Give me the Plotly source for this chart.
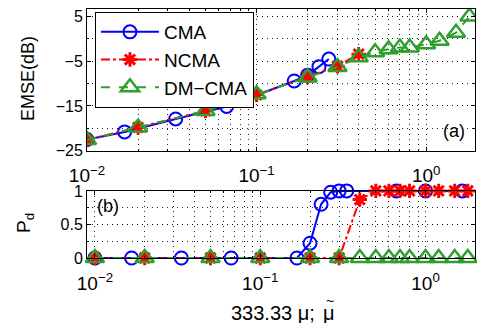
import math
import plotly.graph_objects as go

# ---- data ----
cma_x = [0.01, 0.016667, 0.033333, 0.066667, 0.166667, 0.2, 0.233333, 0.266667,
         0.3, 0.333333, 0.666667, 1.0, 1.666667]
cma_emse = [-22.5, -20.8, -17.9, -15.1, -9.4, -8.1, -6.2, -4.5,
            None, None, None, None, None]
cma_pd = [0, 0, 0, 0, 0, 0.22, 0.8, 0.98, 1, 1, 1, 1, 1]

mt_x = [0.01, 0.02, 0.05, 0.1, 0.2, 0.3, 0.4, 0.5, 0.6, 0.7, 0.8, 1.0, 1.2, 1.5, 1.8]
ncma_emse = [-22.6, -19.8, -16.1, -12.5, -8.5, -6.1, -3.4,
             None, None, None, None, None, None, None, None]
ncma_pd = [0, 0, 0, 0, 0, 0, 0.87, 1, 1, 1, 1, 1, 1, 1, 1]
dm_emse = [-22.6, -19.8, -16.1, -12.4, -8.6, -6.3, -4.1, -3.0, -2.3, -1.9, -1.9,
           -1.2, -0.4, 1.4, 5.0]
dm_pd = [0, 0, 0, 0, 0, 0, 0, 0, 0, 0, 0, 0, 0, 0, 0]

series_names = ["CMA", "NCMA", "DM\u2212CMA"]
x_tickvals = [0.01, 0.1, 1]
x_ticktext = ["10<sup>\u22122</sup>", "10<sup>\u22121</sup>", "10<sup>0</sup>"]
y1_ticks = [-25, -15, -5, 5]
y2_ticks = [0, 0.5, 1]

BLUE = "rgb(0,0,255)"
RED = "rgb(255,0,0)"
GREEN = "rgb(45,160,45)"
FONT = "Liberation Sans, Arial, sans-serif"
GRIDC = "rgba(0,0,0,0.85)"

fig = go.Figure()

styles = [
    dict(color=BLUE, dash="solid", symbol="circle-open", size=13, mlw=2),
    dict(color=RED, dash="dashdot", symbol="asterisk-open", size=12, mlw=3),
    dict(color=GREEN, dash="dash", symbol="triangle-up-open", size=16, mlw=2.5),
]
top_data = [(cma_x, cma_emse), (mt_x, ncma_emse), (mt_x, dm_emse)]
bot_data = [(cma_x, cma_pd), (mt_x, ncma_pd), (mt_x, dm_pd)]

for name, st, (xs, ys) in zip(series_names, styles, top_data):
    fig.add_trace(go.Scatter(
        x=xs, y=ys, mode="lines+markers", name=name, xaxis="x", yaxis="y",
        line=dict(color=st["color"], width=2, dash=st["dash"]),
        marker=dict(symbol=st["symbol"], size=st["size"], color=st["color"],
                    line=dict(color=st["color"], width=st["mlw"])),
        connectgaps=False, cliponaxis=True, showlegend=True))

for name, st, (xs, ys) in zip(series_names, styles, bot_data):
    fig.add_trace(go.Scatter(
        x=xs, y=ys, mode="lines+markers", name=name, xaxis="x2", yaxis="y2",
        line=dict(color=st["color"], width=2, dash=st["dash"]),
        marker=dict(symbol=st["symbol"], size=st["size"], color=st["color"],
                    line=dict(color=st["color"], width=st["mlw"])),
        cliponaxis=False, showlegend=False))

minor_x = [k * 10 ** d for d in (-3, -2, -1, 0) for k in range(2, 10)]
grid = dict(showgrid=True, gridcolor=GRIDC, griddash="1px,4px", gridwidth=1)

common_x = dict(type="log", tickvals=x_tickvals, ticktext=x_ticktext,
                ticks="inside", ticklen=4, tickcolor="black", ticklabelstandoff=8,
                showline=True, linecolor="black", linewidth=1, mirror="ticks",
                zeroline=False, tickfont=dict(family=FONT, size=19, color="black"),
                minor=dict(tickvals=minor_x, showgrid=True, gridcolor=GRIDC,
                           griddash="1px,4px", ticks="inside", ticklen=2, tickcolor="black"),
                **grid)
common_y = dict(ticks="inside", ticklen=4, tickcolor="black",
                showline=True, linecolor="black", linewidth=1, mirror="ticks",
                zeroline=False, tickfont=dict(family=FONT, size=16, color="black"),
                **grid)

fig.update_layout(
    width=477, height=323,
    margin=dict(l=87, r=1, t=2, b=65),
    paper_bgcolor="white", plot_bgcolor="white",
    font=dict(family=FONT, size=16, color="black"),
    xaxis=dict(domain=[0, 1], anchor="y", range=[-2, 0.288], **common_x),
    yaxis=dict(domain=[0.431, 1], anchor="x", range=[-25, 6.7], tickvals=y1_ticks,
               minor=dict(dtick=5, showgrid=True, gridcolor=GRIDC,
                          griddash="1px,4px", ticks="inside", ticklen=2, tickcolor="black"),
               **common_y),
    xaxis2=dict(domain=[0, 1], anchor="y2", range=[-2.048, 0.299], **common_x),
    yaxis2=dict(domain=[0, 0.2695], anchor="x2", range=[0, 1], tickvals=y2_ticks,
                minor=dict(dtick=0.25, showgrid=True, gridcolor=GRIDC,
                           griddash="1px,4px", ticks="inside", ticklen=2, tickcolor="black"),
                **common_y),
    legend=dict(x=0.0205, y=0.988, xanchor="left", yanchor="top",
                bgcolor="white", bordercolor="black", borderwidth=1,
                font=dict(family=FONT, size=19, color="black"),
                itemwidth=58, tracegroupgap=0),
    showlegend=True,
)

ann = [
    dict(text="(a)", x=0.946, y=0.512, size=18),
    dict(text="(b)", x=0.054, y=0.207, size=18),
]
for a in ann:
    fig.add_annotation(text=a["text"], x=a["x"], y=a["y"], xref="paper", yref="paper",
                       showarrow=False, xanchor="center", yanchor="middle",
                       font=dict(family=FONT, size=a["size"], color="black"))

fig.add_annotation(text="EMSE(dB)", x=-0.154, y=0.72, xref="paper", yref="paper",
                   showarrow=False, textangle=-90, xanchor="center", yanchor="middle",
                   font=dict(family=FONT, size=18, color="black"))
fig.add_annotation(text="P<sub>d</sub>", x=-0.16, y=0.14, xref="paper", yref="paper",
                   showarrow=False, textangle=-90, xanchor="center", yanchor="middle",
                   font=dict(family=FONT, size=19, color="black"))
# x-axis label: "333.33 μ;  μ̃" (tilde placed over the second μ)
fig.add_annotation(text="333.33 \u03bc;", x=0.592, y=-0.22, xref="paper", yref="paper",
                   showarrow=False, xanchor="right", yanchor="middle",
                   font=dict(family=FONT, size=20, color="black"))
fig.add_annotation(text="\u03bc", x=0.623, y=-0.22, xref="paper", yref="paper",
                   showarrow=False, xanchor="center", yanchor="middle",
                   font=dict(family=FONT, size=20, color="black"))
fig.add_annotation(text="~", x=0.625, y=-0.172, xref="paper", yref="paper",
                   showarrow=False, xanchor="center", yanchor="middle",
                   font=dict(family=FONT, size=14, color="black"))

fig.write_html("out.html")
